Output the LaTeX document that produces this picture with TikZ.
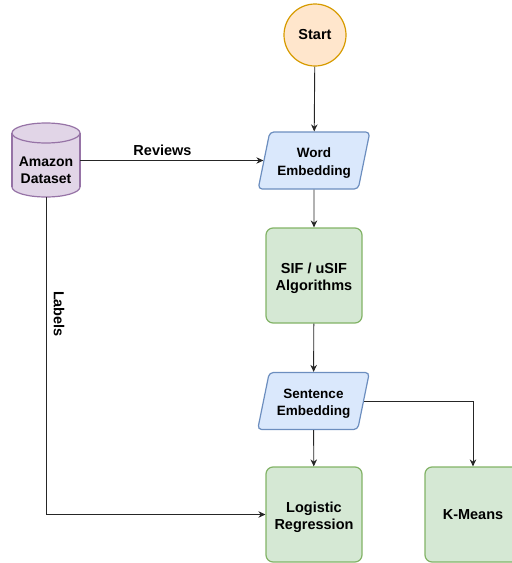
\documentclass[tikz,border=0pt]{standalone}
\usepackage{fontspec}
\setmainfont{Liberation Sans}
\usetikzlibrary{shapes.geometric,arrows.meta}
\definecolor{startfill}{HTML}{FFE6CC}
\definecolor{startdraw}{HTML}{D79B00}
\definecolor{bluefill}{HTML}{DAE8FC}
\definecolor{bluedraw}{HTML}{6C8EBF}
\definecolor{greenfill}{HTML}{D5E8D4}
\definecolor{greendraw}{HTML}{82B366}
\definecolor{purpfill}{HTML}{E1D5E7}
\definecolor{purpdraw}{HTML}{9673A6}
\tikzset{
  lbl/.style={font=\bfseries\fontsize{14.5}{17.5}\selectfont},
  txtb/.style={lbl,align=center,inner sep=0pt,yshift=-3pt},
  txts/.style={font=\bfseries\fontsize{13.5}{17.5}\selectfont,align=center,inner sep=0pt,yshift=-2.5pt},
  startnode/.style={circle,draw=startdraw,fill=startfill,line width=1.2pt,minimum size=62pt,inner sep=0pt,lbl},
  databox/.style={trapezium,trapezium left angle=67,trapezium right angle=113,trapezium stretches=true,
    draw=bluedraw,fill=bluefill,line width=1.2pt,minimum width=112pt,minimum height=57pt,inner sep=0pt,
    rounded corners=4pt},
  procbox/.style={rectangle,rounded corners=7pt,draw=greendraw,fill=greenfill,line width=1.2pt,
    minimum width=96pt,minimum height=95pt,inner sep=0pt,align=center,lbl},
  conn/.style={draw=black!85,line width=0.9pt,-{Stealth[length=7pt,width=6.5pt]}},
  cylpart/.style={fill=purpfill,draw=purpdraw,line width=1.2pt}
}
\begin{document}
\begin{tikzpicture}[x=1pt,y=-1pt]
\useasboundingbox (0,0) rectangle (512,563);
% cylinder
\filldraw[cylpart] (46,187) ellipse[x radius=34,y radius=10];
\fill[purpfill] (12,133) rectangle (80,187);
\draw[purpdraw,line width=1.2pt] (12,133) -- (12,187) (80,133) -- (80,187);
\filldraw[cylpart] (46,133) ellipse[x radius=34,y radius=10];
\node[minimum width=68pt,minimum height=60pt,inner sep=0pt,align=center,font=\bfseries\fontsize{14}{17}\selectfont] (cyl) at (46,170.5) {Amazon\\Dataset};
% nodes
\node[startnode] (start) at (315,35) {Start};
\node[databox] (we) at (314,160.5) {\phantom{Word}};
\node[txts] (wet) at (we.center) {Word\\Embedding};
\node[procbox] (sif) at (314,275.5) {};
\node[txtb] (sift) at (sif.center) {SIF / uSIF\\Algorithms};
\node[databox] (se) at (313.5,401) {\phantom{Word}};
\node[txts] (set) at (se.center) {Sentence\\Embedding};
\node[procbox] (lr) at (314,514.5) {};
\node[txtb] (lrt) at (lr.center) {Logistic\\Regression};
\node[procbox] (km) at (473,514.5) {K-Means};
% connectors
\draw[conn] (start) -- (we);
\coordinate (revstart) at (80,160.5);
\draw[conn] (revstart) -- node[lbl,above,pos=0.45,yshift=1pt] {Reviews} (we.west);
\draw[conn] (we) -- (sif);
\draw[conn] (sif) -- (se);
\draw[conn] (se) -- (lr);
\draw[conn] (se.east) -| (km.north);
\coordinate (labstart) at (46,197);
\draw[conn] (labstart) |- (lr.west);
\node[lbl,rotate=-90] (labels) at (59,314) {Labels};
\end{tikzpicture}
\end{document}
